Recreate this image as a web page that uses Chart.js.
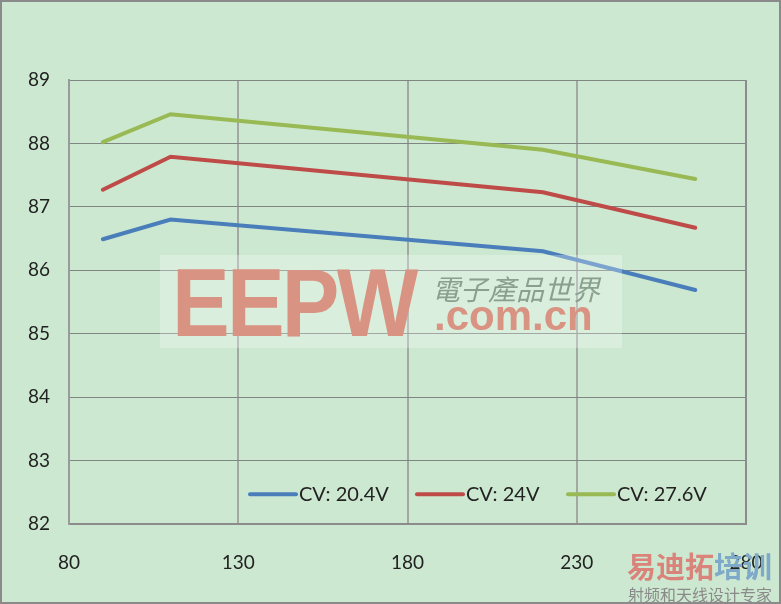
<!DOCTYPE html>
<html>
<head>
<meta charset="utf-8">
<script src="https://cdn.jsdelivr.net/npm/chart.js@4.4.1/dist/chart.umd.min.js"></script>
<style>
    html, body { margin: 0; padding: 0; background: #cce8d0; }
    #wrap { position: relative; width: 781px; height: 604px; }
    #frame { position: absolute; left: 0; top: 0; width: 777px; height: 600px; border: 2px solid #8a8a8a; pointer-events: none; }
    .wm { position: absolute; white-space: nowrap; }
    #eepwBox { left: 160px; top: 255px; width: 462px; height: 93px; background: rgba(255,255,255,0.28); }
</style>
</head>
<body>
<div id="wrap">
    <canvas id="chart" width="781" height="604"></canvas>
    <div id="eepwBox" class="wm"></div>
    <div class="wm" style="left:172px;top:248px;font:bold 96px 'Liberation Sans';color:#d99382;transform:scaleX(0.9);transform-origin:left top;letter-spacing:-3px;">EEPW</div>
    <div class="wm" style="left:432px;top:268px;font:28px 'Noto Sans CJK TC';color:#8aa08e;font-style:italic;">電子產品世界</div>
    <div class="wm" style="left:434px;top:292px;font:bold 42px 'Liberation Sans';color:#d99382;">.com.cn</div>
    <div class="wm" style="left:627px;top:544px;font:bold 29px 'Noto Sans CJK SC';"><span style="color:#d9837a">易迪拓</span><span style="color:#7fa9c9">培训</span></div>
    <div class="wm" style="left:628px;top:582px;font:16px 'Noto Sans CJK SC';color:#8a8a8a;">射频和天线设计专家</div>
    <div id="frame"></div>
</div>
<script>
// Data
const seriesNames = ['CV: 20.4V', 'CV: 24V', 'CV: 27.6V'];
const xValues = [90, 110, 220, 265];
const cv204 = [86.49, 86.8, 86.3, 85.69];
const cv24 = [87.27, 87.79, 87.23, 86.67];
const cv276 = [88.02, 88.46, 87.9, 87.44];
const colors = ['#4a7ebb', '#be4b48', '#98b954'];
const xTicks = [80, 130, 180, 230, 280];

function toPoints(ys) {
    return ys.map((y, i) => ({ x: xValues[i], y: y }));
}

// Legend drawn inside the plot area near the bottom
const innerLegend = {
    id: 'innerLegend',
    afterDatasetsDraw(chart) {
        const ctx = chart.ctx;
        const starts = [250, 417, 568];
        const y = chart.scales.y.getPixelForValue(82.47);
        ctx.save();
        ctx.font = '20px Lato';
        ctx.textBaseline = 'middle';
        chart.data.datasets.forEach((ds, i) => {
            ctx.strokeStyle = ds.borderColor;
            ctx.lineWidth = 4;
            ctx.lineCap = 'round';
            ctx.beginPath();
            ctx.moveTo(starts[i], y);
            ctx.lineTo(starts[i] + 46, y);
            ctx.stroke();
            ctx.fillStyle = '#222';
            ctx.fillText(ds.label, starts[i] + 49, y);
        });
        ctx.restore();
    }
};

const ctx = document.getElementById('chart').getContext('2d');
new Chart(ctx, {
    type: 'line',
    data: {
        datasets: [cv204, cv24, cv276].map((vals, i) => ({
            label: seriesNames[i],
            data: toPoints(vals),
            borderColor: colors[i],
            backgroundColor: colors[i],
            borderWidth: 4,
            pointRadius: 0,
            tension: 0,
            borderCapStyle: 'round'
        }))
    },
    options: {
        responsive: false,
        animation: false,
        layout: { padding: { left: 0, right: 35, top: 80, bottom: 0 } },
        plugins: {
            legend: { display: false },
            tooltip: { enabled: false }
        },
        scales: {
            x: {
                type: 'linear',
                min: 80,
                max: 280,
                afterBuildTicks(axis) { axis.ticks = xTicks.map(v => ({ value: v })); },
                afterFit(axis) {
                    axis.height = 80;
                    axis.paddingLeft = 0;
                    axis.paddingRight = 0;
                },
                grid: { color: '#a3a8a3', lineWidth: 2, drawTicks: false },
                border: { color: '#8c8c8c', width: 2 },
                ticks: { padding: 27, color: '#222', font: { family: 'Lato', size: 19 } }
            },
            y: {
                min: 82,
                max: 89,
                afterFit(axis) {
                    axis.width = 69;
                    axis.paddingTop = 0;
                    axis.paddingBottom = 0;
                },
                grid: { color: '#7f8580', lineWidth: 1, drawTicks: false },
                border: { color: '#9a9a9a', width: 2 },
                ticks: { stepSize: 1, padding: 19, color: '#222', font: { family: 'Lato', size: 19 } }
            }
        }
    },
    plugins: [innerLegend, {
        id: 'rightEdge',
        beforeDatasetsDraw(chart) {
            const a = chart.chartArea;
            const c = chart.ctx;
            c.save();
            c.strokeStyle = '#8c8c8c';
            c.lineWidth = 2;
            c.beginPath();
            c.moveTo(a.right, a.top);
            c.lineTo(a.right, a.bottom);
            c.stroke();
            c.restore();
        }
    }]
});
</script>
</body>
</html>
